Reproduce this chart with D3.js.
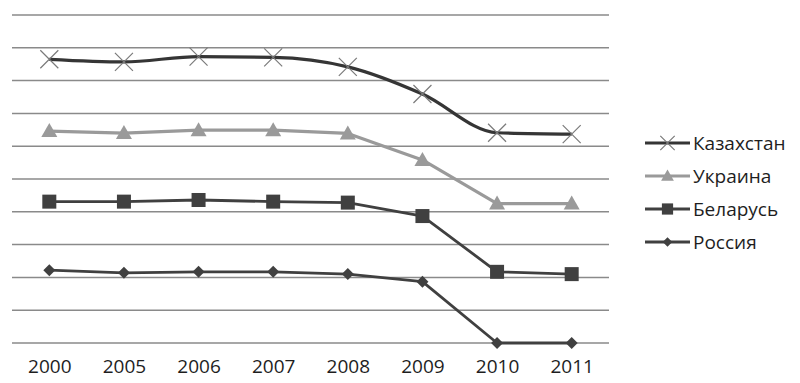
<!DOCTYPE html>
<html><head><meta charset="utf-8">
<script src="https://cdn.jsdelivr.net/npm/d3@7/dist/d3.min.js"></script>
<style>html,body{margin:0;padding:0;background:#fff;}svg{display:block;}</style>
</head><body>
<svg id="c" width="800" height="383"></svg>
<script>
const years = ["2000","2005","2006","2007","2008","2009","2010","2011"];
const kazakhstan = [8.65, 8.57, 8.73, 8.71, 8.42, 7.59, 6.41, 6.37];
const ukraine    = [6.46, 6.40, 6.49, 6.49, 6.39, 5.58, 4.25, 4.25];
const belarus    = [4.31, 4.31, 4.36, 4.31, 4.28, 3.87, 2.17, 2.10];
const russia     = [2.22, 2.14, 2.17, 2.17, 2.10, 1.87, 0.00, 0.00];
const seriesNames = ["Казахстан","Украина","Беларусь","Россия"];
const yTicks = [0,1,2,3,4,5,6,7,8,9,10];

const svg = d3.select("#c");
const x = d3.scalePoint().domain(years).range([12, 609]).padding(0.5);
const y = d3.scaleLinear().domain([0, 10]).range([343, 15]);

// gridlines
svg.append("g").selectAll("line").data(yTicks).join("line")
  .attr("x1", 12).attr("x2", 609)
  .attr("y1", d => y(d)).attr("y2", d => y(d))
  .attr("stroke", "#8a8a8a").attr("stroke-width", 1.5);

// x axis labels
const xAxis = d3.axisBottom(x).tickSize(0).tickPadding(0);
const gx = svg.append("g").attr("transform", "translate(0,366)").call(xAxis);
gx.select(".domain").remove();
gx.selectAll("text").attr("font-family", "Open Sans, sans-serif").attr("font-size", 19)
  .attr("font-weight", 500).attr("fill", "#1e1e1e").attr("dy", "0.35em");

const series = [
  {name: seriesNames[0], values: kazakhstan, color: "#353535", width: 3.2, marker: "x", mcolor: "#7a7a7a", curve: d3.curveMonotoneX},
  {name: seriesNames[1], values: ukraine, color: "#9a9a9a", width: 3.2, marker: "tri", mcolor: "#9a9a9a", curve: d3.curveLinear},
  {name: seriesNames[2], values: belarus, color: "#404040", width: 2.8, marker: "sq", mcolor: "#404040", curve: d3.curveLinear},
  {name: seriesNames[3], values: russia, color: "#404040", width: 2.8, marker: "dia", mcolor: "#404040", curve: d3.curveLinear}
];

function drawMarker(g, type, color, cx, cy, scale) {
  const s = scale || 1;
  if (type === "x") {
    const r = 9 * s;
    g.append("path").attr("d", `M${cx-r},${cy-r}L${cx+r},${cy+r}M${cx-r},${cy+r}L${cx+r},${cy-r}`)
      .attr("stroke", color).attr("stroke-width", 1.2).attr("fill", "none");
  } else if (type === "tri") {
    const r = 8 * s;
    g.append("path").attr("d", `M${cx},${cy-r}L${cx+r},${cy+r*0.75}L${cx-r},${cy+r*0.75}Z`).attr("fill", color);
  } else if (type === "sq") {
    const r = 7 * s;
    g.append("rect").attr("x", cx-r).attr("y", cy-r).attr("width", 2*r).attr("height", 2*r).attr("fill", color);
  } else if (type === "dia") {
    const r = 6 * s;
    g.append("path").attr("d", `M${cx},${cy-r}L${cx+r},${cy}L${cx},${cy+r}L${cx-r},${cy}Z`).attr("fill", color);
  }
}

series.forEach(s => {
  const line = d3.line().x((d,i) => x(years[i])).y(d => y(d)).curve(s.curve);
  svg.append("path").datum(s.values).attr("d", line)
    .attr("fill", "none").attr("stroke", s.color).attr("stroke-width", s.width).attr("stroke-linejoin", "round");
  const g = svg.append("g");
  s.values.forEach((v, i) => drawMarker(g, s.marker, s.mcolor, x(years[i]), y(v)));
});

// legend
const legendY = [143, 176, 209, 242];
series.forEach((s, i) => {
  const g = svg.append("g");
  const ly = legendY[i];
  g.append("line").attr("x1", 645).attr("x2", 690).attr("y1", ly).attr("y2", ly)
    .attr("stroke", s.color).attr("stroke-width", s.width);
  drawMarker(g, s.marker, s.mcolor, 667.5, ly, 0.8);
  g.append("text").attr("x", 693).attr("y", ly).attr("dy", "0.35em")
    .attr("font-family", "Open Sans, sans-serif").attr("font-size", 19).attr("font-weight", 500)
    .attr("fill", "#1e1e1e").text(s.name);
});
</script>
</body></html>
